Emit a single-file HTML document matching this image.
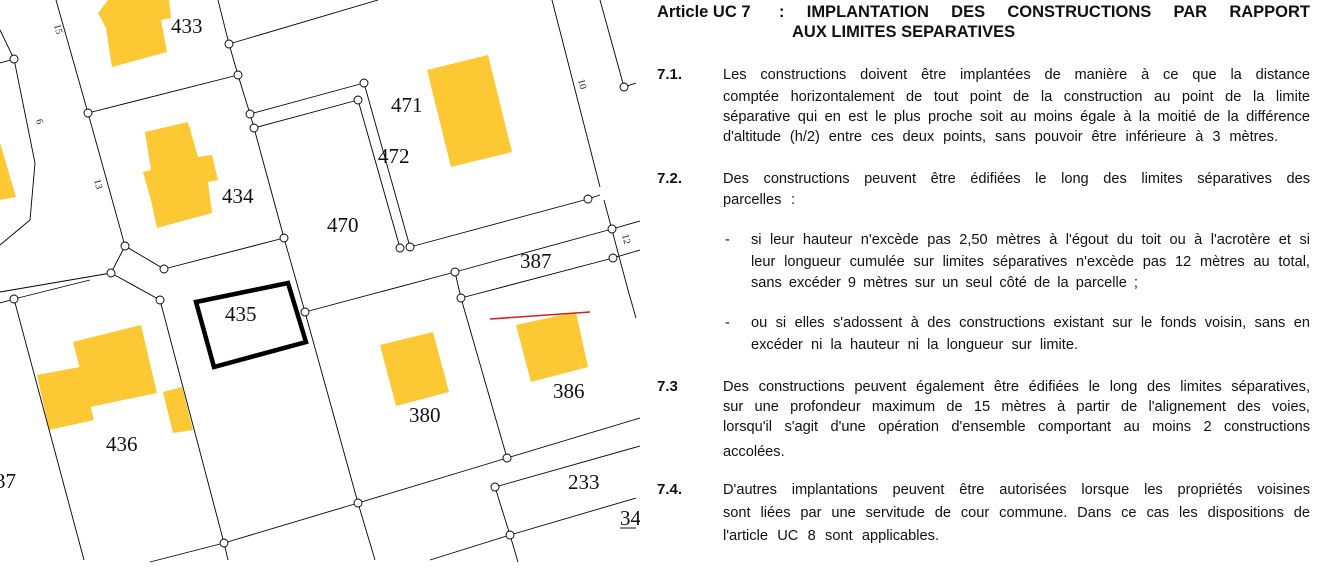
<!DOCTYPE html>
<html><head><meta charset="utf-8">
<style>
html,body{margin:0;padding:0;background:#fff;}
#w{position:relative;width:1344px;height:580px;overflow:hidden;background:#fff;}
svg{position:absolute;left:0;top:0;}
.t{position:absolute;font-family:"Liberation Sans",sans-serif;font-size:14.6px;line-height:18px;height:18px;color:#111;text-align:justify;text-align-last:justify;overflow:hidden;}
.n{position:absolute;font-family:"Liberation Sans",sans-serif;font-size:15px;font-weight:bold;line-height:18px;color:#111;}
.h{position:absolute;font-family:"Liberation Sans",sans-serif;font-size:16.5px;font-weight:bold;line-height:20px;color:#111;text-align:justify;text-align-last:justify;white-space:nowrap;}
</style></head><body><div id="w">
<svg width="640" height="580" viewBox="0 0 640 580">
<g fill="#fcc833" stroke="none">
<polygon points="108,0 169,0 171,18 161,20 167,52 112,67 106,28 98,13"/>
<polygon points="0,143 16,197 0,200"/>
<polygon points="145,132 188,122 198,157 212,155 218,180 208,182 212,213 157,228 151,200 143,172 151,170"/>
<polygon points="427,70 488,55 512,152 451,167"/>
<polygon points="73,342 141,325 157,393 90,407"/>
<polygon points="37,375 80,367 94,420 49,430"/>
<polygon points="163,392 182,387 193,430 173,433"/>
<polygon points="380,345 433,332 449,392 396,406"/>
<polygon points="516,325 576,312 588,367 531,382"/>
</g>
<g stroke="#000" stroke-width="0.9" fill="none">
<polyline points="218,0 229,44 238,75 250,114 254,128 284,238 305,312 358,503 375,560"/>
<line x1="229" y1="44" x2="378" y2="0"/>
<line x1="238" y1="75" x2="88" y2="113"/>
<line x1="250" y1="114" x2="364" y2="83"/>
<line x1="254" y1="128" x2="358" y2="100"/>
<line x1="364" y1="83" x2="410" y2="247"/>
<line x1="358" y1="100" x2="400" y2="248"/>
<polyline points="410,247 588,199 600,195"/>
<line x1="284" y1="238" x2="164" y2="269"/>
<line x1="164" y1="269" x2="125" y2="246"/>
<polyline points="56,0 88,113 125,246"/>
<line x1="125" y1="246" x2="111" y2="273"/>
<line x1="111" y1="273" x2="0" y2="292"/>
<line x1="111" y1="273" x2="160" y2="300"/>
<polyline points="160,300 224,543 228,560"/>
<polyline points="224,543 358,503 507,458 640,418"/>
<line x1="224" y1="543" x2="150" y2="562"/>
<polyline points="14,299 84,560"/>
<line x1="14" y1="299" x2="90" y2="280"/>
<line x1="14" y1="299" x2="0" y2="303"/>
<polyline points="0,30 14,59 35,163 30,220 0,245"/>
<line x1="14" y1="59" x2="0" y2="63"/>
<polyline points="305,312 455,272 612,229 640,221"/>
<polyline points="455,272 461,298 507,458"/>
<polyline points="461,298 613,258 640,250"/>
<polyline points="495,487 640,446"/>
<polyline points="495,487 510,535 518,562"/>
<line x1="510" y1="535" x2="636" y2="498"/>
<line x1="510" y1="535" x2="430" y2="560"/>
<line x1="552" y1="0" x2="600" y2="187"/>
<polyline points="600,0 624,87 636,83"/>
<polyline points="604,200 628,290 636,318"/>
<line x1="620" y1="528" x2="636" y2="528"/>
</g>
<polygon points="196,302 288,283 306,342 214,367" fill="none" stroke="#000" stroke-width="4.5" stroke-linejoin="miter"/>
<line x1="490" y1="319" x2="590" y2="312" stroke="#d42020" stroke-width="1.6"/>
<g fill="#fff" stroke="#000" stroke-width="0.9">
<circle cx="229" cy="44" r="4"/><circle cx="238" cy="75" r="4"/><circle cx="364" cy="83" r="4"/>
<circle cx="250" cy="114" r="4"/><circle cx="254" cy="128" r="4"/><circle cx="358" cy="100" r="4"/>
<circle cx="284" cy="238" r="4"/><circle cx="125" cy="246" r="4"/><circle cx="164" cy="269" r="4"/>
<circle cx="111" cy="273" r="4"/><circle cx="400" cy="248" r="4"/><circle cx="410" cy="247" r="4"/>
<circle cx="588" cy="199" r="4"/><circle cx="612" cy="229" r="4"/><circle cx="613" cy="258" r="4"/>
<circle cx="455" cy="272" r="4"/><circle cx="14" cy="59" r="4"/><circle cx="88" cy="113" r="4"/>
<circle cx="624" cy="87" r="4"/><circle cx="160" cy="300" r="4"/><circle cx="14" cy="299" r="4"/>
<circle cx="305" cy="312" r="4"/><circle cx="461" cy="298" r="4"/><circle cx="358" cy="503" r="4"/>
<circle cx="507" cy="458" r="4"/><circle cx="495" cy="487" r="4"/><circle cx="510" cy="535" r="4"/>
<circle cx="224" cy="543" r="4"/>
</g>
<g font-family="Liberation Serif, serif" font-size="21" fill="#111">
<text x="171" y="33">433</text>
<text x="391" y="112">471</text>
<text x="378" y="163">472</text>
<text x="222" y="203">434</text>
<text x="327" y="232">470</text>
<text x="520" y="268">387</text>
<text x="225" y="321">435</text>
<text x="409" y="422">380</text>
<text x="553" y="398">386</text>
<text x="106" y="451">436</text>
<text x="568" y="489">233</text>
<text x="-5" y="488">37</text>
<text x="620" y="525">34</text>
</g>
<g font-family="Liberation Serif, serif" font-size="10" fill="#222">
<text transform="translate(54,25) rotate(75)">15</text>
<text transform="translate(36,120) rotate(75)">6</text>
<text transform="translate(94,180) rotate(75)">13</text>
<text transform="translate(578,80) rotate(75)">10</text>
<text transform="translate(622,235) rotate(75)">12</text>
</g>
</svg>

<div class="n" style="left:657px;top:3px;font-size:16.5px;">Article UC 7</div>
<div class="h" style="left:779px;top:2px;width:531px;">: IMPLANTATION DES CONSTRUCTIONS PAR RAPPORT</div>
<div class="n" style="left:792px;top:23px;font-size:16.5px;">AUX LIMITES SEPARATIVES</div>

<div class="n" style="left:657px;top:66px;">7.1.</div>
<div class="t" style="left:723px;top:66px;width:587px;">Les constructions doivent être implantées de manière à ce que la distance</div>
<div class="t" style="left:723px;top:88px;width:587px;">comptée horizontalement de tout point de la construction au point de la limite</div>
<div class="t" style="left:723px;top:108px;width:587px;">séparative qui en est le plus proche soit au moins égale à la moitié de la différence</div>
<div class="t" style="left:723px;top:128px;width:555px;">d'altitude (h/2) entre ces deux points, sans pouvoir être inférieure à 3 mètres.</div>

<div class="n" style="left:657px;top:170px;">7.2.</div>
<div class="t" style="left:723px;top:170px;width:587px;">Des constructions peuvent être édifiées le long des limites séparatives des</div>
<div class="t" style="left:723px;top:191px;width:72px;">parcelles :</div>

<div class="t" style="left:725px;top:231px;width:10px;">-</div>
<div class="t" style="left:751px;top:231px;width:559px;">si leur hauteur n'excède pas 2,50 mètres à l'égout du toit ou à l'acrotère et si</div>
<div class="t" style="left:751px;top:253px;width:559px;">leur longueur cumulée sur limites séparatives n'excède pas 12 mètres au total,</div>
<div class="t" style="left:751px;top:274px;width:387px;">sans excéder 9 mètres sur un seul côté de la parcelle ;</div>

<div class="t" style="left:725px;top:314px;width:10px;">-</div>
<div class="t" style="left:751px;top:314px;width:559px;">ou si elles s'adossent à des constructions existant sur le fonds voisin, sans en</div>
<div class="t" style="left:751px;top:336px;width:327px;">excéder ni la hauteur ni la longueur sur limite.</div>

<div class="n" style="left:657px;top:378px;">7.3</div>
<div class="t" style="left:723px;top:378px;width:587px;">Des constructions peuvent également être édifiées le long des limites séparatives,</div>
<div class="t" style="left:723px;top:398px;width:587px;">sur une profondeur maximum de 15 mètres à partir de l'alignement des voies,</div>
<div class="t" style="left:723px;top:418px;width:587px;">lorsqu'il s'agit d'une opération d'ensemble comportant au moins 2 constructions</div>
<div class="t" style="left:723px;top:443px;width:64px;">accolées.</div>

<div class="n" style="left:657px;top:481px;">7.4.</div>
<div class="t" style="left:723px;top:481px;width:587px;">D'autres implantations peuvent être autorisées lorsque les propriétés voisines</div>
<div class="t" style="left:723px;top:504px;width:587px;">sont liées par une servitude de cour commune. Dans ce cas les dispositions de</div>
<div class="t" style="left:723px;top:527px;width:216px;">l'article UC 8 sont applicables.</div>
</div></body></html>
